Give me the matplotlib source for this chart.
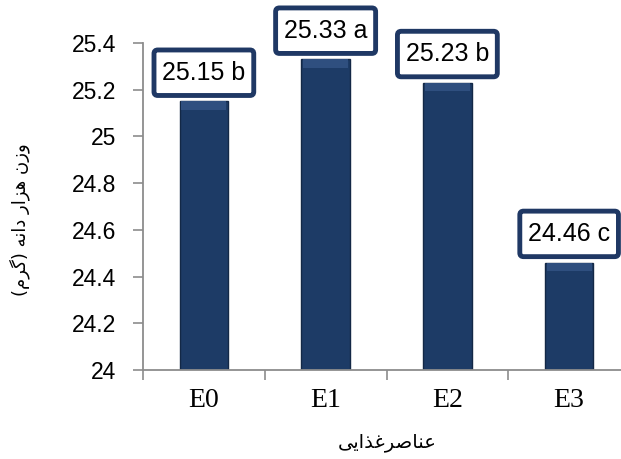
import matplotlib
matplotlib.use('Agg')
import matplotlib.pyplot as plt
from matplotlib.patches import BoxStyle

# data
treatments = ['E0', 'E1', 'E2', 'E3']
weights = [25.15, 25.33, 25.23, 24.46]
groups = ['b', 'a', 'b', 'c']
y_ticks = [24, 24.2, 24.4, 24.6, 24.8, 25, 25.2, 25.4]
x_title = 'عناصرغذایی'
y_title = 'وزن هزار دانه (گرم)'

# matplotlib has no arabic shaping, so pick the presentation forms by hand
# (isolated, final, initial, medial)
FORMS = {
    'ا': (0xFE8D, 0xFE8E), 'د': (0xFEA9, 0xFEAA), 'ذ': (0xFEAB, 0xFEAC),
    'ر': (0xFEAD, 0xFEAE), 'ز': (0xFEAF, 0xFEB0), 'و': (0xFEED, 0xFEEE),
    'ن': (0xFEE5, 0xFEE6, 0xFEE7, 0xFEE8), 'ه': (0xFEE9, 0xFEEA, 0xFEEB, 0xFEEC),
    'م': (0xFEE1, 0xFEE2, 0xFEE3, 0xFEE4), 'ع': (0xFEC9, 0xFECA, 0xFECB, 0xFECC),
    'ص': (0xFEB9, 0xFEBA, 0xFEBB, 0xFEBC), 'غ': (0xFECD, 0xFECE, 0xFECF, 0xFED0),
    'گ': (0xFB92, 0xFB93, 0xFB94, 0xFB95), 'ی': (0xFBFC, 0xFBFD, 0xFBFE, 0xFBFF),
}


def rtl(text):
    out = []
    for i, ch in enumerate(text):
        if ch not in FORMS:
            out.append(ch)
            continue
        prev = text[i - 1] if i > 0 else ''
        nxt = text[i + 1] if i + 1 < len(text) else ''
        f = FORMS[ch]
        join_prev = prev in FORMS and len(FORMS[prev]) == 4
        join_next = len(f) == 4 and nxt in FORMS
        if join_prev and join_next:
            code = f[3]
        elif join_prev:
            code = f[1]
        elif join_next:
            code = f[2]
        else:
            code = f[0]
        out.append(chr(code))
    vis = ''.join(reversed(out))
    return vis.translate(str.maketrans('()', ')('))


class TallRound(BoxStyle.Round):
    # rounded box with some extra vertical padding
    def __call__(self, x0, y0, width, height, mutation_size):
        extra = 0.1 * mutation_size
        return super().__call__(x0, y0 - extra, width, height + 2 * extra, mutation_size)


navy = '#1f3864'
grey = '#8c8c8c'

fig = plt.figure(figsize=(6.21, 4.59), dpi=100)
ax = fig.add_axes([143 / 621, 89 / 459, 487 / 621, 327 / 459])

x = range(len(treatments))
ax.bar(x, weights, width=0.4, color='#1d3b66', edgecolor='#132846', linewidth=1.0, zorder=2)
# lighter bevel along the top of each bar
cap = 0.035
ax.bar(x, [cap] * len(weights), bottom=[w - cap for w in weights], width=0.37,
       color='#2f4f7f', linewidth=0, zorder=3)

for xi, w, g in zip(x, weights, groups):
    ax.annotate(f'{w:.2f} {g}', xy=(xi, w), xytext=(0, 12), textcoords='offset points',
                ha='center', va='bottom', fontsize=18, family='Liberation Sans',
                bbox=dict(boxstyle=TallRound(pad=0.33, rounding_size=0.15), fc='white',
                          ec=navy, lw=3.5))

ax.set_xlim(-0.5, 3.5)
ax.set_ylim(24, 25.4)
ax.set_yticks(y_ticks)
ax.set_yticklabels([f'{t:g}' for t in y_ticks], family='Liberation Sans', fontsize=16.5)
ax.set_xticks([-0.5, 0.5, 1.5, 2.5], minor=False)
ax.set_xticklabels([])
ax.set_xticks(list(x), minor=True)
ax.set_xticklabels(treatments, minor=True, family='Liberation Serif', fontsize=20)
ax.tick_params(axis='x', which='major', length=7, color=grey, width=1.2)
ax.tick_params(axis='x', which='minor', length=0, pad=13)
ax.tick_params(axis='y', length=7, color=grey, width=1.2, pad=12)

for side in ['top', 'right']:
    ax.spines[side].set_visible(False)
for side in ['left', 'bottom']:
    ax.spines[side].set_color(grey)
    ax.spines[side].set_linewidth(1.3)

fig.text(387 / 621, 1 - 443 / 459, rtl(x_title), ha='center', va='center',
         fontsize=14, family='DejaVu Sans')
fig.text(20 / 621, 1 - 220 / 459, rtl(y_title), ha='center', va='center',
         rotation=90, fontsize=13, family='DejaVu Sans')

fig.savefig('out.png', dpi=100)
